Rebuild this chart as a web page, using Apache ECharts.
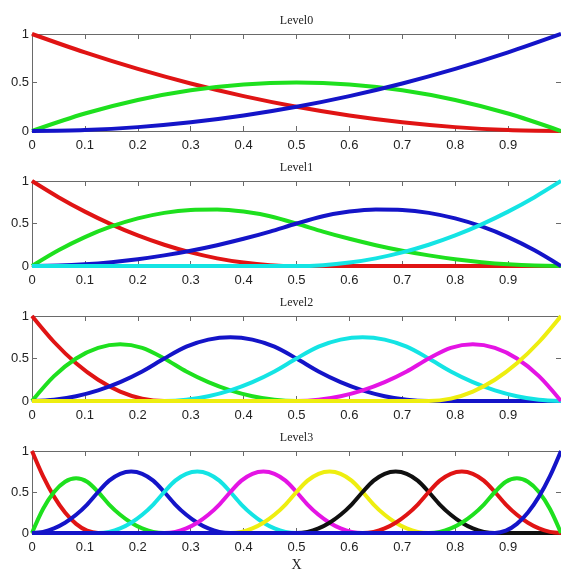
<!DOCTYPE html>
<html>
<head>
<meta charset="utf-8">
<title>Level0 - Level3</title>
<script src="https://cdn.jsdelivr.net/npm/echarts@6/dist/echarts.min.js"></script>
<style>
body{margin:0;background:#fff;}
#main{width:561px;height:573px;}
</style>
</head>
<body>
<div id="main"></div>
<script>
// tick labels and panel names
var levelNames = ['Level0', 'Level1', 'Level2', 'Level3'];
var xTickLabels = ['0', '0.1', '0.2', '0.3', '0.4', '0.5', '0.6', '0.7', '0.8', '0.9', ''];
var yTickLabels = ['0', '0.5', '1'];

// sample positions on x for each level
var level0X = [0, 0.1, 0.2, 0.3, 0.4, 0.5, 0.6, 0.7, 0.8, 0.9, 1];
var level1X = [0, 0.05, 0.1, 0.15, 0.2, 0.25, 0.3, 0.35, 0.4, 0.45, 0.5, 0.55, 0.6, 0.65, 0.7, 0.75, 0.8, 0.85, 0.9, 0.95, 1];
var level2X = [0, .04167, .08333, .125, .16667, .20833,
               .25, .29167, .33333, .375, .41667, .45833,
               .5, .54167, .58333, .625, .66667, .70833,
               .75, .79167, .83333, .875, .91667, .95833, 1];
var level3X = [0, .02083, .04167, .0625, .08333, .10417,
               .125, .14583, .16667, .1875, .20833, .22917,
               .25, .27083, .29167, .3125, .33333, .35417,
               .375, .39583, .41667, .4375, .45833, .47917,
               .5, .52083, .54167, .5625, .58333, .60417,
               .625, .64583, .66667, .6875, .70833, .72917,
               .75, .77083, .79167, .8125, .83333, .85417,
               .875, .89583, .91667, .9375, .95833, .97917, 1];

// curve values
var level0Values = [
	[1, .81, .64, .49, .36, .25, .16, .09, .04, .01, 0],
	[0, .18, .32, .42, .48, .5, .48, .42, .32, .18, 0],
	[0, .01, .04, .09, .16, .25, .36, .49, .64, .81, 1]
];
var level1Values = [
	[1, .81, .64, .49, .36, .25, .16, .09, .04, .01, 0, 0, 0, 0, 0, 0, 0, 0, 0, 0, 0],
	[0, .185, .34, .465, .56, .625, .66, .665, .64, .585, .5, .405, .32, .245, .18, .125, .08, .045, .02, .005, 0],
	[0, .005, .02, .045, .08, .125, .18, .245, .32, .405, .5, .585, .64, .665, .66, .625, .56, .465, .34, .185, 0],
	[0, 0, 0, 0, 0, 0, 0, 0, 0, 0, 0, .01, .04, .09, .16, .25, .36, .49, .64, .81, 1]
];
var level2Values = [
	[1, .694, .444, .25, .111, .028,  0, 0, 0, 0, 0, 0,  0, 0, 0, 0, 0, 0,  0, 0, 0, 0, 0, 0,  0],
	[0, .292, .5, .625, .667, .625,  .5, .347, .222, .125, .056, .014,  0, 0, 0, 0, 0, 0,  0, 0, 0, 0, 0, 0,  0],
	[0, .014, .056, .125, .222, .347,  .5, .639, .722, .75, .722, .639,  .5, .347, .222, .125, .056, .014,  0, 0, 0, 0, 0, 0,  0],
	[0, 0, 0, 0, 0, 0,  0, .014, .056, .125, .222, .347,  .5, .639, .722, .75, .722, .639,  .5, .347, .222, .125, .056, .014,  0],
	[0, 0, 0, 0, 0, 0,  0, 0, 0, 0, 0, 0,  0, .014, .056, .125, .222, .347,  .5, .625, .667, .625, .5, .292,  0],
	[0, 0, 0, 0, 0, 0,  0, 0, 0, 0, 0, 0,  0, 0, 0, 0, 0, 0,  0, .028, .111, .25, .444, .694,  1]
];
var level3Values = [
	[1, .694, .444, .25, .111, .028,  0, 0, 0, 0, 0, 0,  0, 0, 0, 0, 0, 0,  0, 0, 0, 0, 0, 0,
	 0, 0, 0, 0, 0, 0,  0, 0, 0, 0, 0, 0,  0, 0, 0, 0, 0, 0,  0, 0, 0, 0, 0, 0,  0],
	[0, .292, .5, .625, .667, .625,  .5, .347, .222, .125, .056, .014,  0, 0, 0, 0, 0, 0,  0, 0, 0, 0, 0, 0,
	 0, 0, 0, 0, 0, 0,  0, 0, 0, 0, 0, 0,  0, 0, 0, 0, 0, 0,  0, 0, 0, 0, 0, 0,  0],
	[0, .014, .056, .125, .222, .347,  .5, .639, .722, .75, .722, .639,  .5, .347, .222, .125, .056, .014,  0, 0, 0, 0, 0, 0,
	 0, 0, 0, 0, 0, 0,  0, 0, 0, 0, 0, 0,  0, 0, 0, 0, 0, 0,  0, 0, 0, 0, 0, 0,  0],
	[0, 0, 0, 0, 0, 0,  0, .014, .056, .125, .222, .347,  .5, .639, .722, .75, .722, .639,  .5, .347, .222, .125, .056, .014,
	 0, 0, 0, 0, 0, 0,  0, 0, 0, 0, 0, 0,  0, 0, 0, 0, 0, 0,  0, 0, 0, 0, 0, 0,  0],
	[0, 0, 0, 0, 0, 0,  0, 0, 0, 0, 0, 0,  0, .014, .056, .125, .222, .347,  .5, .639, .722, .75, .722, .639,
	 .5, .347, .222, .125, .056, .014,  0, 0, 0, 0, 0, 0,  0, 0, 0, 0, 0, 0,  0, 0, 0, 0, 0, 0,  0],
	[0, 0, 0, 0, 0, 0,  0, 0, 0, 0, 0, 0,  0, 0, 0, 0, 0, 0,  0, .014, .056, .125, .222, .347,
	 .5, .639, .722, .75, .722, .639,  .5, .347, .222, .125, .056, .014,  0, 0, 0, 0, 0, 0,  0, 0, 0, 0, 0, 0,  0],
	[0, 0, 0, 0, 0, 0,  0, 0, 0, 0, 0, 0,  0, 0, 0, 0, 0, 0,  0, 0, 0, 0, 0, 0,
	 0, .014, .056, .125, .222, .347,  .5, .639, .722, .75, .722, .639,  .5, .347, .222, .125, .056, .014,  0, 0, 0, 0, 0, 0,  0],
	[0, 0, 0, 0, 0, 0,  0, 0, 0, 0, 0, 0,  0, 0, 0, 0, 0, 0,  0, 0, 0, 0, 0, 0,
	 0, 0, 0, 0, 0, 0,  0, .014, .056, .125, .222, .347,  .5, .639, .722, .75, .722, .639,  .5, .347, .222, .125, .056, .014,  0],
	[0, 0, 0, 0, 0, 0,  0, 0, 0, 0, 0, 0,  0, 0, 0, 0, 0, 0,  0, 0, 0, 0, 0, 0,
	 0, 0, 0, 0, 0, 0,  0, 0, 0, 0, 0, 0,  0, .014, .056, .125, .222, .347,  .5, .625, .667, .625, .5, .292,  0],
	[0, 0, 0, 0, 0, 0,  0, 0, 0, 0, 0, 0,  0, 0, 0, 0, 0, 0,  0, 0, 0, 0, 0, 0,
	 0, 0, 0, 0, 0, 0,  0, 0, 0, 0, 0, 0,  0, 0, 0, 0, 0, 0,  0, .028, .111, .25, .444, .694,  1]
];

// matlab style colour cycle r g b c m y k
var lineColors = ['#e01414', '#1ee01e', '#1414c8', '#14e4e4', '#e414e4', '#eeee10', '#101010'];

var levelX = [level0X, level1X, level2X, level3X];
var levelValues = [level0Values, level1Values, level2Values, level3Values];
var gridTops = [34, 181, 316, 451];
var gridHeights = [97, 85, 85, 85];

var frameColor = '#6a6a6a';
var labelStyle = {color: '#222', fontSize: 13, fontFamily: 'Liberation Sans, Arial, sans-serif'};

var grids = [], xAxes = [], yAxes = [], series = [];

for (var i = 0; i < 4; i++) {
	grids.push({left: 32, right: -3, top: gridTops[i], height: gridHeights[i]});

	// bottom axis with labels
	xAxes.push({
		type: 'value', gridIndex: i, min: 0, max: 1, interval: 0.1, position: 'bottom',
		axisLine: {onZero: false, lineStyle: {color: frameColor}},
		axisTick: {inside: true, length: 5, lineStyle: {color: frameColor}},
		axisLabel: Object.assign({margin: 8, showMaxLabel: false, formatter: function (v) {
			return xTickLabels[Math.round(v * 10)];
		}}, labelStyle),
		splitLine: {show: false},
		name: i == 3 ? 'X' : '', nameLocation: 'middle', nameGap: 25,
		nameTextStyle: {color: '#222', fontSize: 14, fontFamily: 'Liberation Serif, Times New Roman, serif'}
	});
	// top axis, only frame + ticks, carries the panel title
	xAxes.push({
		type: 'value', gridIndex: i, min: 0, max: 1, interval: 0.1, position: 'top',
		axisLine: {onZero: false, lineStyle: {color: frameColor}},
		axisTick: {inside: true, length: 5, lineStyle: {color: frameColor}},
		axisLabel: {show: false},
		splitLine: {show: false},
		name: levelNames[i], nameLocation: 'middle', nameGap: 7,
		nameTextStyle: {color: '#222', fontSize: 12, fontFamily: 'Liberation Serif, Times New Roman, serif'}
	});
	yAxes.push({
		type: 'value', gridIndex: i, min: 0, max: 1, interval: 0.5, position: 'left',
		axisLine: {show: true, onZero: false, lineStyle: {color: frameColor}},
		axisTick: {show: true, inside: true, length: 5, lineStyle: {color: frameColor}},
		axisLabel: Object.assign({margin: 3, formatter: function (v) {
			return yTickLabels[Math.round(v * 2)];
		}}, labelStyle),
		splitLine: {show: false}
	});
	yAxes.push({
		type: 'value', gridIndex: i, min: 0, max: 1, interval: 0.5, position: 'right',
		axisLine: {show: true, onZero: false, lineStyle: {color: frameColor}},
		axisTick: {show: true, inside: true, length: 5, lineStyle: {color: frameColor}},
		axisLabel: {show: false},
		splitLine: {show: false}
	});

	var xs = levelX[i];
	var vals = levelValues[i];
	for (var k = 0; k < vals.length; k++) {
		var pts = [];
		for (var j = 0; j < xs.length; j++) pts.push([xs[j], vals[k][j]]);
		series.push({
			type: 'line', xAxisIndex: 2 * i, yAxisIndex: 2 * i,
			data: pts, smooth: 0.3, showSymbol: false, silent: true,
			lineStyle: {color: lineColors[k % lineColors.length], width: 4}
		});
	}
}

var myChart = echarts.init(document.getElementById('main'));
myChart.setOption({
	animation: false,
	backgroundColor: '#fff',
	grid: grids,
	xAxis: xAxes,
	yAxis: yAxes,
	series: series
});
</script>
</body>
</html>
